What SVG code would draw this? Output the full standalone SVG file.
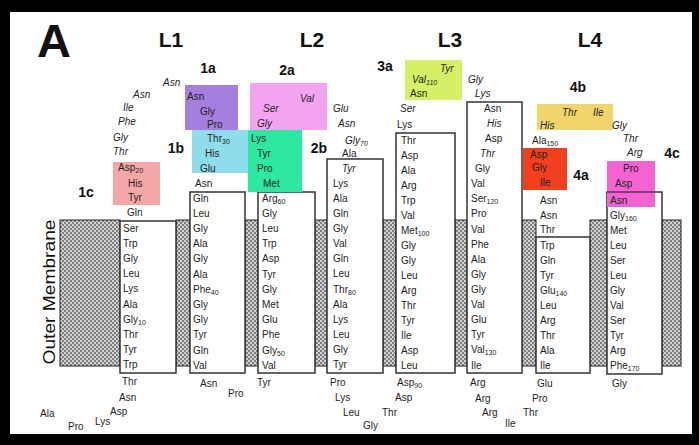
<svg xmlns="http://www.w3.org/2000/svg" width="699" height="445" viewBox="0 0 699 445">
<defs>
<pattern id="dots" width="4" height="4" patternUnits="userSpaceOnUse">
<rect width="4" height="4" fill="#7e7e7e"/>
<circle cx="1" cy="1" r="1" fill="#eeeeee"/>
<circle cx="3" cy="3" r="1" fill="#eeeeee"/>
</pattern>
<style>
.t{font-family:"Liberation Sans",Arial,sans-serif;font-size:10px;fill:#1e1e1e}
.i{font-style:italic}
.n{font-size:7px}
.lb{font-family:"Liberation Sans",Arial,sans-serif;font-weight:bold;fill:#111}
.mem{fill:url(#dots);stroke:#222;stroke-width:1}
.box{fill:#fff;stroke:#333;stroke-width:1.5}
</style>
</defs>
<rect x="0" y="0" width="699" height="445" fill="#000"/>
<rect x="10" y="12" width="682" height="422" fill="#fff"/>

<g id="membrane">
<rect class="mem" x="60" y="220" width="60" height="146"/>
<rect class="mem" x="176" y="220" width="14" height="146"/>
<rect class="mem" x="245" y="220" width="13" height="146"/>
<rect class="mem" x="315" y="220" width="12" height="146"/>
<rect class="mem" x="383" y="220" width="13" height="146"/>
<rect class="mem" x="455" y="220" width="12" height="146"/>
<rect class="mem" x="522" y="220" width="14" height="146"/>
<rect class="mem" x="590" y="220" width="17" height="146"/>
<rect class="mem" x="662" y="220" width="19" height="146"/>
<text class="lb" style="font-weight:normal;font-size:16px" transform="translate(55,292) rotate(-90)" text-anchor="middle" textLength="145" lengthAdjust="spacingAndGlyphs">Outer Membrane</text>
</g>

<g id="labels">
<text class="lb" x="37" y="57" font-size="47">A</text>
<text class="lb" x="171" y="47" font-size="21" text-anchor="middle">L1</text>
<text class="lb" x="312" y="47" font-size="21" text-anchor="middle">L2</text>
<text class="lb" x="450" y="47" font-size="21" text-anchor="middle">L3</text>
<text class="lb" x="590" y="47" font-size="21" text-anchor="middle">L4</text>
</g>

<g id="strand1">
<rect class="box" x="120" y="221" width="56" height="152"/>
<text class="t" x="123" y="231.5">Ser</text>
<text class="t" x="123" y="246.7">Trp</text>
<text class="t" x="123" y="261.9">Gly</text>
<text class="t" x="123" y="277.1">Leu</text>
<text class="t" x="123" y="292.3">Lys</text>
<text class="t" x="123" y="307.5">Ala</text>
<text class="t" x="123" y="322.7">Gly<tspan class="n" dy="2">10</tspan></text>
<text class="t" x="123" y="337.9">Thr</text>
<text class="t" x="123" y="353.1">Tyr</text>
<text class="t" x="123" y="368.3">Trp</text>
</g>

<g id="strand2">
<rect class="box" x="190" y="192" width="55" height="181"/>
<text class="t" x="193" y="201.5">Gln</text>
<text class="t" x="193" y="216.7">Leu</text>
<text class="t" x="193" y="231.9">Gly</text>
<text class="t" x="193" y="247.1">Ala</text>
<text class="t" x="193" y="262.3">Gly</text>
<text class="t" x="193" y="277.5">Ala</text>
<text class="t" x="193" y="292.7">Phe<tspan class="n" dy="2">40</tspan></text>
<text class="t" x="193" y="307.9">Gly</text>
<text class="t" x="193" y="323.1">Gly</text>
<text class="t" x="193" y="338.3">Tyr</text>
<text class="t" x="193" y="353.5">Gln</text>
<text class="t" x="193" y="368.7">Val</text>
</g>

<g id="strand3">
<rect class="box" x="258" y="192" width="57" height="181"/>
<text class="t" x="262" y="201.5">Arg<tspan class="n" dy="2">60</tspan></text>
<text class="t" x="262" y="216.7">Gly</text>
<text class="t" x="262" y="231.9">Leu</text>
<text class="t" x="262" y="247.1">Trp</text>
<text class="t" x="262" y="262.3">Asp</text>
<text class="t" x="262" y="277.5">Tyr</text>
<text class="t" x="262" y="292.7">Gly</text>
<text class="t" x="262" y="307.9">Met</text>
<text class="t" x="262" y="323.1">Glu</text>
<text class="t" x="262" y="338.3">Phe</text>
<text class="t" x="262" y="353.5">Gly<tspan class="n" dy="2">50</tspan></text>
<text class="t" x="262" y="368.7">Val</text>
</g>

<g id="strand4">
<rect class="box" x="327" y="159" width="56" height="214"/>
<text class="t i" x="342" y="172">Tyr</text>
<text class="t" x="333" y="186.5">Lys</text>
<text class="t" x="333" y="201.6">Ala</text>
<text class="t" x="333" y="216.8">Gln</text>
<text class="t" x="333" y="231.9">Gly</text>
<text class="t" x="333" y="247.1">Val</text>
<text class="t" x="333" y="262.2">Gln</text>
<text class="t" x="333" y="277.4">Leu</text>
<text class="t" x="333" y="292.5">Thr<tspan class="n" dy="2">80</tspan></text>
<text class="t" x="333" y="307.7">Ala</text>
<text class="t" x="333" y="322.8">Lys</text>
<text class="t" x="333" y="338">Leu</text>
<text class="t" x="333" y="353.1">Gly</text>
<text class="t" x="333" y="368.3">Tyr</text>
</g>

<g id="strand5">
<rect class="box" x="396" y="133" width="59" height="240"/>
<text class="t" x="401" y="143.5">Thr</text>
<text class="t" x="401" y="158.5">Asp</text>
<text class="t" x="401" y="173.5">Ala</text>
<text class="t" x="401" y="188.5">Arg</text>
<text class="t" x="401" y="203.5">Trp</text>
<text class="t" x="401" y="218.5">Val</text>
<text class="t" x="401" y="233.5">Met<tspan class="n" dy="2">100</tspan></text>
<text class="t" x="401" y="248.5">Gly</text>
<text class="t" x="401" y="263.5">Gly</text>
<text class="t" x="401" y="278.5">Leu</text>
<text class="t" x="401" y="293.5">Arg</text>
<text class="t" x="401" y="308.5">Thr</text>
<text class="t" x="401" y="323.5">Tyr</text>
<text class="t" x="401" y="338.5">Ile</text>
<text class="t" x="401" y="353.5">Asp</text>
<text class="t" x="401" y="368.5">Leu</text>
</g>

<g id="strand6">
<rect class="box" x="467" y="102" width="55" height="271"/>
<text class="t" x="484" y="111.5">Asn</text>
<text class="t i" x="487" y="126.6">His</text>
<text class="t" x="485" y="141.7">Asp</text>
<text class="t i" x="480" y="156.9">Thr</text>
<text class="t" x="475" y="172">Gly</text>
<text class="t" x="471" y="187.1">Val</text>
<text class="t" x="471" y="202.2">Ser<tspan class="n" dy="2">120</tspan></text>
<text class="t" x="471" y="217.3">Pro</text>
<text class="t" x="471" y="232.5">Val</text>
<text class="t" x="471" y="247.6">Phe</text>
<text class="t" x="471" y="262.7">Ala</text>
<text class="t" x="471" y="277.8">Gly</text>
<text class="t" x="471" y="292.9">Gly</text>
<text class="t" x="471" y="308">Val</text>
<text class="t" x="471" y="323.2">Glu</text>
<text class="t" x="471" y="338.3">Tyr</text>
<text class="t" x="471" y="353.4">Val<tspan class="n" dy="2">130</tspan></text>
<text class="t" x="471" y="368.5">Ile</text>
</g>

<g id="strand7">
<rect class="box" x="536" y="237" width="54" height="136"/>
<text class="t" x="540" y="248.5">Trp</text>
<text class="t" x="540" y="263.5">Gln</text>
<text class="t" x="540" y="278.5">Tyr</text>
<text class="t" x="540" y="293.5">Glu<tspan class="n" dy="2">140</tspan></text>
<text class="t" x="540" y="308.5">Leu</text>
<text class="t" x="540" y="323.5">Arg</text>
<text class="t" x="540" y="338.5">Thr</text>
<text class="t" x="540" y="353.5">Ala</text>
<text class="t" x="540" y="368.5">Ile</text>
</g>

<g id="strand8">
<rect class="box" x="607" y="192" width="55" height="182"/>
<text class="t" x="610" y="218.5">Gly<tspan class="n" dy="2">160</tspan></text>
<text class="t" x="610" y="233.5">Met</text>
<text class="t" x="610" y="248.5">Leu</text>
<text class="t" x="610" y="263.5">Ser</text>
<text class="t" x="610" y="278.5">Leu</text>
<text class="t" x="610" y="293.5">Gly</text>
<text class="t" x="610" y="308.5">Val</text>
<text class="t" x="610" y="323.5">Ser</text>
<text class="t" x="610" y="338.5">Tyr</text>
<text class="t" x="610" y="353.5">Arg</text>
<text class="t" x="610" y="368.5">Phe<tspan class="n" dy="2">170</tspan></text>
</g>

<g id="loop1">
<text class="t i" x="163" y="86">Asn</text>
<text class="t i" x="133" y="98">Asn</text>
<text class="t i" x="123" y="111">Ile</text>
<text class="t i" x="118" y="125">Phe</text>
<text class="t i" x="113" y="141">Gly</text>
<text class="t i" x="113" y="155">Thr</text>
<text class="t" x="127" y="216">Gln</text>
<text class="t" x="195" y="187">Asn</text>
</g>

<g id="box1a">
<rect x="185" y="85" width="53" height="45" fill="#a57fdc"/>
<text class="t" x="187" y="100">Asn</text>
<text class="t" x="200" y="115">Gly</text>
<text class="t" x="207" y="128">Pro</text>
<text class="lb" x="208" y="73" font-size="14" text-anchor="middle">1a</text>
</g>

<g id="box1b">
<rect x="192" y="130" width="56" height="43" fill="#8fdcea"/>
<text class="t" x="207" y="142">Thr<tspan class="n" dy="2">30</tspan></text>
<text class="t" x="205" y="157">His</text>
<text class="t" x="200" y="172">Glu</text>
<text class="lb" x="176" y="153" font-size="14" text-anchor="middle">1b</text>
</g>

<g id="box1c">
<rect x="113" y="162" width="47" height="43" fill="#f4a7a7"/>
<text class="t" x="118" y="171">Asp<tspan class="n" dy="2">20</tspan></text>
<text class="t" x="128" y="187">His</text>
<text class="t" x="128" y="201">Tyr</text>
<text class="lb" x="86" y="197" font-size="14" text-anchor="middle">1c</text>
</g>

<g id="box2a">
<rect x="250" y="83" width="77" height="47" fill="#f3a4f0"/>
<text class="t i" x="300" y="102">Val</text>
<text class="t i" x="263" y="112">Ser</text>
<text class="t i" x="257" y="127">Gly</text>
<text class="lb" x="287" y="75" font-size="14" text-anchor="middle">2a</text>
</g>

<g id="box2b">
<rect x="248" y="130" width="54" height="62" fill="#2de8a0"/>
<text class="t" x="251" y="142">Lys</text>
<text class="t" x="257" y="157">Tyr</text>
<text class="t" x="257" y="172">Pro</text>
<text class="t" x="263" y="187">Met</text>
<text class="lb" x="319" y="153" font-size="14" text-anchor="middle">2b</text>
</g>

<g id="loop2">
<text class="t i" x="333" y="112">Glu</text>
<text class="t i" x="338" y="127">Asn</text>
<text class="t i" x="345" y="144">Gly<tspan class="n" dy="2">70</tspan></text>
<text class="t" x="342" y="157">Ala</text>
</g>

<g id="box3a">
<rect x="405" y="60" width="57" height="40" fill="#d6f065"/>
<text class="t i" x="440" y="72">Tyr</text>
<text class="t i" x="412" y="83">Val<tspan class="n" dy="2">110</tspan></text>
<text class="t" x="410" y="97">Asn</text>
<text class="lb" x="385" y="71" font-size="14" text-anchor="middle">3a</text>
</g>

<g id="loop3">
<text class="t i" x="400" y="112">Ser</text>
<text class="t" x="397" y="128">Lys</text>
<text class="t i" x="468" y="83">Gly</text>
<text class="t i" x="475" y="97">Lys</text>
</g>

<g id="box4a">
<rect x="523" y="148" width="44" height="42" fill="#f2401f"/>
<text class="t" x="530" y="158">Asp</text>
<text class="t" x="532" y="171">Gly</text>
<text class="t" x="540" y="186">Ile</text>
<text class="lb" x="581" y="180" font-size="14" text-anchor="middle">4a</text>
</g>

<g id="box4b">
<rect x="537" y="104" width="76" height="26" fill="#f0d66a"/>
<text class="t i" x="540" y="129">His</text>
<text class="t i" x="562" y="116">Thr</text>
<text class="t i" x="593" y="116">Ile</text>
<text class="lb" x="578" y="92" font-size="14" text-anchor="middle">4b</text>
</g>

<g id="box4c">
<rect x="607" y="161" width="48" height="46" fill="#f562d2"/>
<line x1="607" y1="192" x2="655" y2="192" stroke="#6a2a66" stroke-width="1.5"/>
<text class="t" x="623" y="172">Pro</text>
<text class="t" x="615" y="187">Asp</text>
<text class="t" x="610" y="203.5">Asn</text>
<text class="lb" x="672" y="158" font-size="14" text-anchor="middle">4c</text>
</g>

<g id="loop4">
<text class="t" x="532" y="144">Ala<tspan class="n" dy="2">150</tspan></text>
<text class="t" x="540" y="204">Asn</text>
<text class="t" x="540" y="219">Asn</text>
<text class="t" x="540" y="233">Thr</text>
<text class="t i" x="612" y="129">Gly</text>
<text class="t i" x="623" y="142">Thr</text>
<text class="t i" x="627" y="156">Arg</text>
</g>

<g id="turns">
<text class="t" x="40" y="417">Ala</text>
<text class="t" x="68" y="430">Pro</text>
<text class="t" x="95" y="425" font-size="8">Lys</text>
<text class="t" x="110" y="415">Asp</text>
<text class="t" x="119" y="401">Asn</text>
<text class="t" x="122" y="385">Thr</text>
<text class="t" x="200" y="387">Asn</text>
<text class="t" x="228" y="397">Pro</text>
<text class="t" x="257" y="386">Tyr</text>
<text class="t" x="330" y="386">Pro</text>
<text class="t" x="335" y="401">Lys</text>
<text class="t" x="343" y="416">Leu</text>
<text class="t" x="363" y="429">Gly</text>
<text class="t" x="382" y="416">Thr</text>
<text class="t" x="395" y="401">Asp</text>
<text class="t" x="397" y="386">Asp<tspan class="n" dy="2">90</tspan></text>
<text class="t" x="470" y="386">Arg</text>
<text class="t" x="475" y="402">Arg</text>
<text class="t" x="482" y="416">Arg</text>
<text class="t" x="505" y="427" font-size="8">Ile</text>
<text class="t" x="523" y="416">Thr</text>
<text class="t" x="532" y="402">Pro</text>
<text class="t" x="537" y="387">Glu</text>
<text class="t" x="612" y="387">Gly</text>
</g>
</svg>
